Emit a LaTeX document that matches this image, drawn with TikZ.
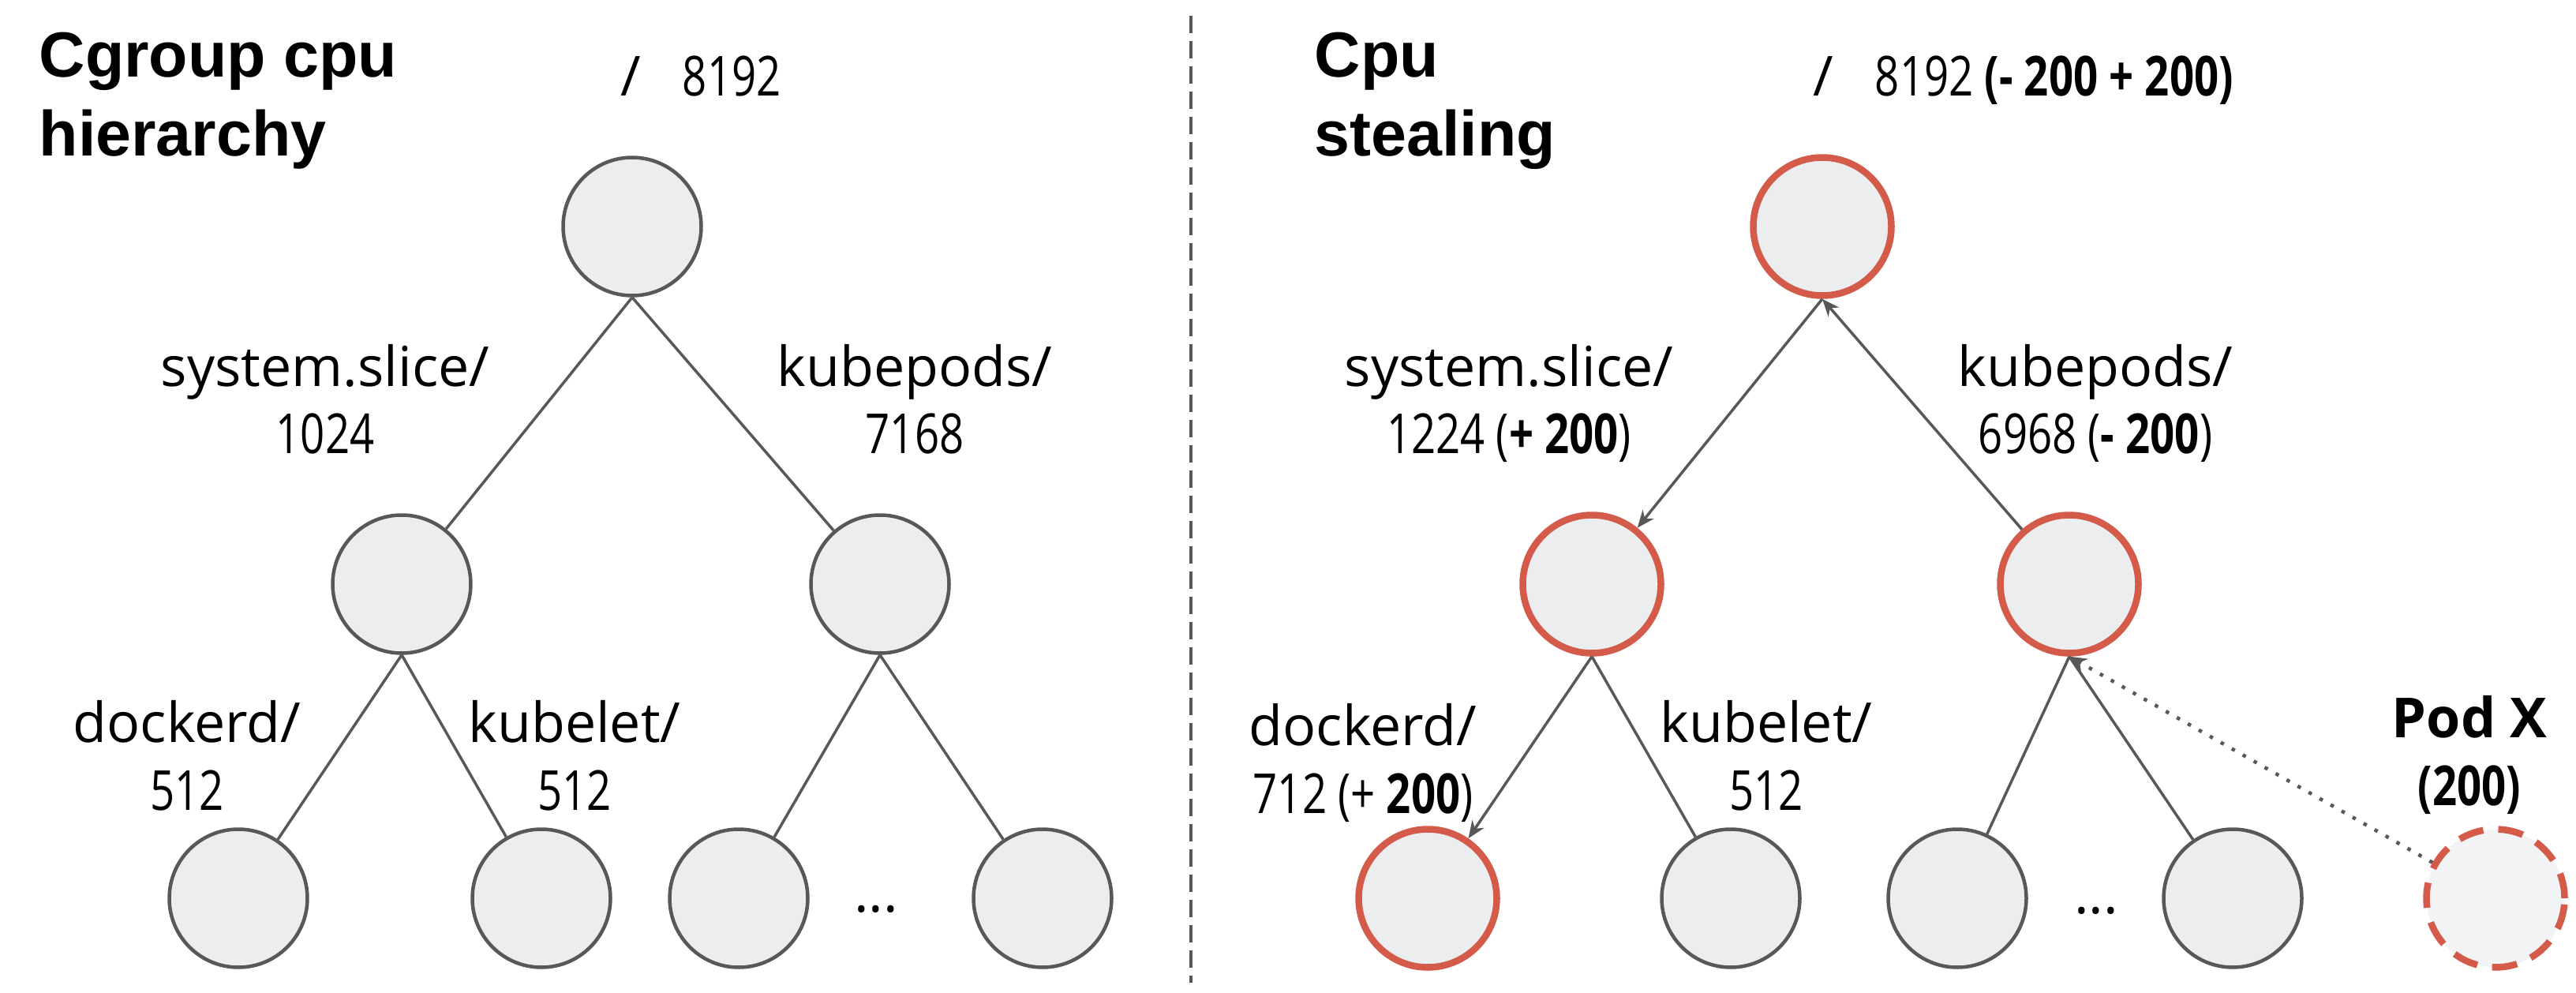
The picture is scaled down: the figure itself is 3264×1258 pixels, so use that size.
\documentclass[tikz,border=0pt]{standalone}
\usepackage{fontspec}
\setmainfont{Open Sans}
\newfontfamily\headfont{Liberation Sans}
\newfontfamily\numfont[FakeStretch=0.78]{Open Sans}
\usetikzlibrary{shapes,arrows.meta}

\definecolor{nodefill}{RGB}{236,237,239}
\definecolor{podfill}{RGB}{242,243,245}
\definecolor{edgegray}{RGB}{88,88,88}
\definecolor{hotred}{RGB}{212,91,74}

\tikzstyle{cg} = [circle, minimum size=17.5mm, inner sep=0pt, draw=edgegray, line width=0.45mm, fill=nodefill]
\tikzstyle{hot} = [cg, draw=hotred, line width=0.85mm]
\tikzstyle{newpod} = [cg, draw=hotred, fill=podfill, line width=0.85mm, dash pattern=on 3.2mm off 1.9mm]
\tikzstyle{lbl} = [align=center, anchor=base, inner sep=0pt, font=\fontsize{19.9}{24.2}\selectfont]
\tikzstyle{heading} = [align=left, anchor=base west, inner sep=0pt, font=\headfont\bfseries\fontsize{23}{28.7}\selectfont]
\tikzstyle{link} = [draw=edgegray, line width=0.35mm]
\tikzstyle{arrow} = [link, -{Stealth[length=2.2mm,width=1.8mm,inset=0.7mm]}]
\tikzstyle{dotlink} = [arrow, line width=0.45mm, dash pattern=on 0.45mm off 1.15mm]
\tikzstyle{divider} = [draw=edgegray, line width=0.35mm, dash pattern=on 2.2mm off 1mm]

\begin{document}
\begin{tikzpicture}[x=0.1mm,y=-0.1mm]
\useasboundingbox (0,0) rectangle (3264,1258);

\node (headL) [heading] at (49,198) {Cgroup cpu\\hierarchy};
\node (rootL) [cg] at (801,287) {};
\node (sysL) [cg] at (509,740) {};
\node (kubeL) [cg] at (1115,740) {};
\node (dockL) [cg] at (302,1138) {};
\node (kletL) [cg] at (686,1138) {};
\node (podLa) [cg] at (936,1138) {};
\node (podLb) [cg] at (1321,1138) {};
\node (dotsL) [lbl] at (1110,1155) {...};

\node (rootLtxt) [lbl, anchor=base west] at (786,122) {/\hspace{0.75em}{\numfont 8192}};
\node (sysLtxt) [lbl] at (412,575) {system.slice/\\{\numfont 1024}};
\node (kubeLtxt) [lbl] at (1159,575) {kubepods/\\{\numfont 7168}};
\node (dockLtxt) [lbl] at (237,1026) {dockerd/\\{\numfont 512}};
\node (kletLtxt) [lbl] at (728,1026) {kubelet/\\{\numfont 512}};

\draw[link] (rootL.south) -- (sysL);
\draw[link] (rootL.south) -- (kubeL);
\draw[link] (sysL.south) -- (dockL);
\draw[link] (sysL.south) -- (kletL);
\draw[link] (kubeL.south) -- (podLa);
\draw[link] (kubeL.south) -- (podLb);

\coordinate (divtop) at (1509,20);
\coordinate (divbot) at (1509,1245);
\draw[divider] (divtop) -- (divbot);

\node (headR) [heading] at (1665,198) {Cpu\\stealing};
\node (rootR) [hot] at (2309,287) {};
\node (sysR) [hot] at (2017,740) {};
\node (kubeR) [hot] at (2622,740) {};
\node (dockR) [hot] at (1809,1138) {};
\node (kletR) [cg] at (2193,1138) {};
\node (podRa) [cg] at (2480,1138) {};
\node (podRb) [cg] at (2829,1138) {};
\node (podX) [newpod] at (3162,1138) {};
\node (dotsR) [lbl] at (2656,1157) {...};

\node (rootRtxt) [lbl, anchor=base west] at (2297,122) {/\hspace{0.75em}{\numfont 8192 \textbf{(- 200 + 200)}}};
\node (sysRtxt) [lbl] at (1912,575) {system.slice/\\{\numfont 1224 (\textbf{+ 200})}};
\node (kubeRtxt) [lbl] at (2655,575) {kubepods/\\{\numfont 6968 (\textbf{- 200})}};
\node (dockRtxt) [lbl] at (1727,1030) {dockerd/\\{\numfont 712 (+ \textbf{200})}};
\node (kletRtxt) [lbl] at (2238,1026) {kubelet/\\{\numfont 512}};
\node (podXtxt) [lbl, font=\fontsize{19.9}{24.2}\selectfont\bfseries] at (3129,1020) {Pod X\\{\numfont (200)}};

\draw[arrow] (rootR.south) -- (sysR);
\draw[arrow] (kubeR) -- (rootR.south);
\draw[arrow] (sysR.south) -- (dockR);
\draw[link] (sysR.south) -- (kletR);
\draw[link] (kubeR.south) -- (podRa);
\draw[link] (kubeR.south) -- (podRb);
\draw[dotlink] (podX) -- (kubeR.south);

\end{tikzpicture}
\end{document}
